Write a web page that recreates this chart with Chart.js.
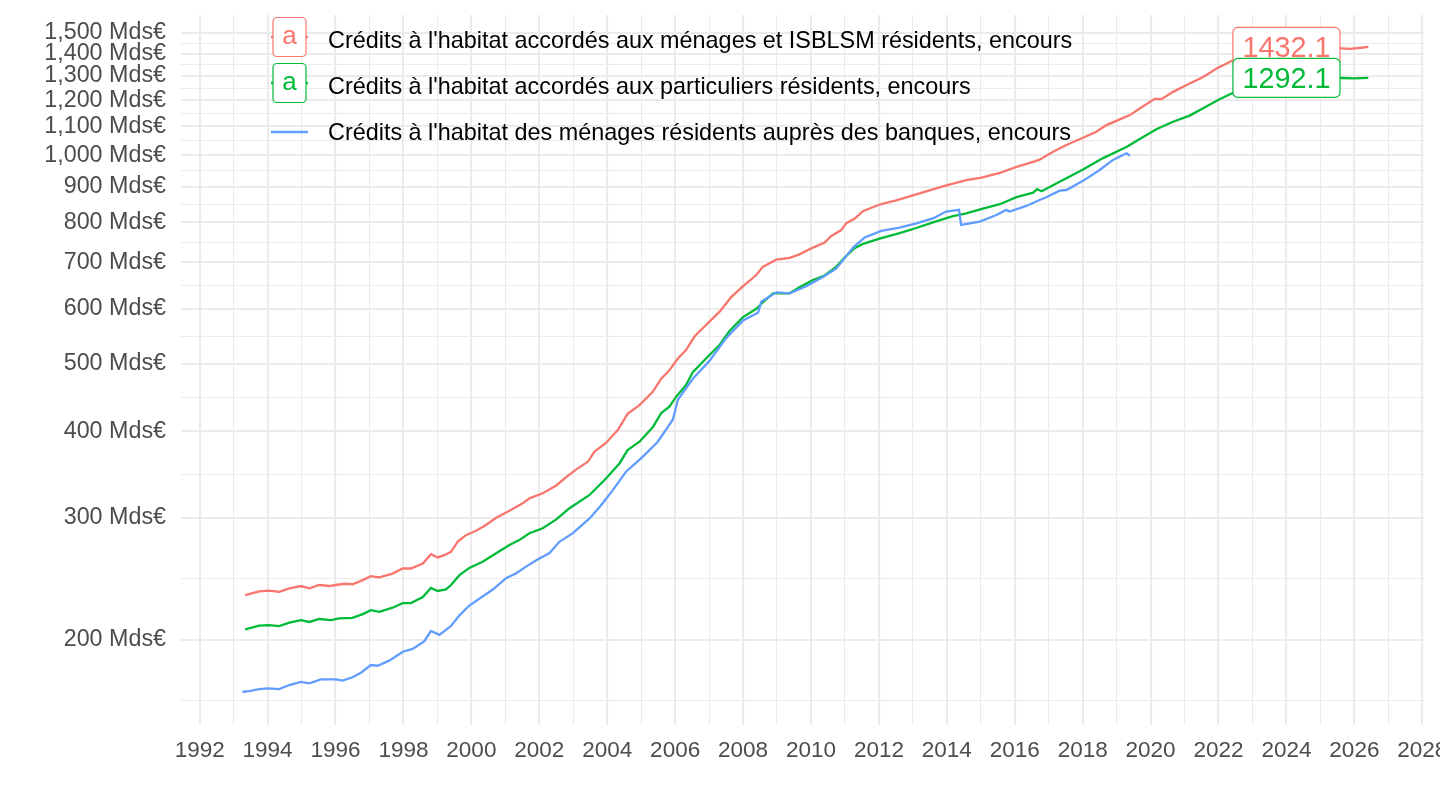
<!DOCTYPE html>
<html lang="fr">
<head>
<meta charset="utf-8">
<title>Crédits à l'habitat, encours</title>
<script src="https://cdn.jsdelivr.net/npm/chart.js@4.4.1/dist/chart.umd.min.js"></script>
<style>
  html, body { margin: 0; padding: 0; background: #fff; }
  #wrap { width: 1440px; height: 810px; }
</style>
</head>
<body>
<div id="wrap"><canvas id="chart" width="1440" height="810"></canvas></div>
<script>
// Series names (legend)
const seriesNames = [
    "Crédits à l'habitat accordés aux ménages et ISBLSM résidents, encours",
    "Crédits à l'habitat accordés aux particuliers résidents, encours",
    "Crédits à l'habitat des ménages résidents auprès des banques, encours"
];
const seriesColors = ['#F8766D', '#00BA38', '#619CFF'];

// Ménages et ISBLSM (Mds€)
const isblsmYears = [1993.34, 1993.75, 1994.05, 1994.34, 1994.64, 1994.98, 1995.23, 1995.52, 1995.82, 1996.01,
    1996.26, 1996.5, 1996.8, 1997.04, 1997.29, 1997.68, 1997.98, 1998.22, 1998.57, 1998.81,
    1999.01, 1999.2, 1999.4, 1999.6, 1999.84, 2000.14, 2000.43, 2000.73, 2001.12, 2001.51,
    2001.71, 2002.1, 2002.5, 2002.79, 2003.08, 2003.43, 2003.62, 2003.97, 2004.31, 2004.6,
    2004.95, 2005.34, 2005.59, 2005.83, 2006.08, 2006.32, 2006.57, 2006.91, 2007.31, 2007.65,
    2008.0, 2008.39, 2008.58, 2008.98, 2009.37, 2009.66, 2010.06, 2010.4, 2010.6, 2010.89,
    2011.04, 2011.28, 2011.53, 2011.78, 2012.07, 2012.51, 2013.0, 2013.49, 2013.99, 2014.57,
    2015.02, 2015.56, 2016.05, 2016.54, 2016.73, 2017.13, 2017.52, 2018.01, 2018.4, 2018.7,
    2019.09, 2019.39, 2019.68, 2020.12, 2020.32, 2020.66, 2021.15, 2021.55, 2021.94, 2022.43,
    2023.0, 2023.5, 2024.0, 2024.5, 2025.0, 2025.62, 2025.87, 2026.2, 2026.41];
const isblsmValues = [232, 235, 235.5, 234.6, 237.4, 239.2, 237.4, 240, 239.2, 240,
    241, 240.6, 243.9, 247.1, 246.1, 249.3, 253.5, 253.5, 257.8, 265.9,
    263, 265, 268, 277.2, 283.2, 287.3, 292.9, 300, 307, 314.7,
    320, 325.4, 334, 343.3, 352, 361.3, 373.5, 384.9, 401.3, 423.6,
    436, 455.7, 476, 489.4, 509, 523.4, 547.5, 569, 594.6, 624,
    647.2, 671.6, 690, 707, 711, 719.2, 735.6, 748, 764.7, 779.6,
    797.7, 809.4, 830, 839.7, 850, 860.4, 874.9, 889.6, 904.6, 919.9,
    928, 942.3, 961.4, 977.5, 985, 1011, 1034, 1059, 1080.6, 1104.6,
    1125.8, 1142, 1167.5, 1205, 1204, 1233.5, 1268, 1296, 1333, 1370,
    1400, 1418, 1426, 1428, 1427, 1425, 1423, 1428, 1432.1];

// Particuliers (Mds€)
const particuliersYears = [1993.34, 1993.75, 1994.05, 1994.34, 1994.64, 1994.98, 1995.23, 1995.52, 1995.87, 1996.1,
    1996.5, 1996.8, 1997.04, 1997.29, 1997.68, 1997.98, 1998.22, 1998.57, 1998.81, 1999.01,
    1999.25, 1999.4, 1999.65, 1999.94, 2000.33, 2000.73, 2001.12, 2001.41, 2001.71, 2002.1,
    2002.5, 2002.89, 2003.48, 2003.97, 2004.36, 2004.6, 2004.95, 2005.34, 2005.59, 2005.83,
    2006.03, 2006.32, 2006.52, 2006.91, 2007.31, 2007.6, 2008.0, 2008.39, 2008.58, 2008.88,
    2009.37, 2009.66, 2010.06, 2010.4, 2010.74, 2011.04, 2011.28, 2011.53, 2012.02, 2012.61,
    2013.1, 2013.59, 2014.18, 2014.57, 2015.06, 2015.56, 2016.05, 2016.54, 2016.66, 2016.79,
    2017.32, 2017.52, 2018.01, 2018.6, 2019.29, 2019.68, 2020.03, 2020.17, 2020.66, 2021.15,
    2021.64, 2022.03, 2022.43, 2023.0, 2023.5, 2024.0, 2024.5, 2025.0, 2025.62, 2026.0, 2026.41];
const particuliersValues = [207.2, 209.7, 210.1, 209.4, 211.8, 213.6, 212.3, 214.4, 213.6, 214.8,
    215.2, 217.9, 220.8, 219.6, 222.6, 226, 226, 230.6, 237.7, 235.3,
    236.6, 240, 248, 254, 259.2, 266.6, 274, 278.6, 285, 289.8,
    298.4, 309.7, 323.6, 342, 359.3, 375.5, 386.2, 405, 424.6, 433.7,
    448.4, 466.2, 486.6, 509, 532.6, 557.8, 584, 600.3, 613, 632,
    632, 644.6, 660.6, 670.6, 690, 715.6, 734, 744.7, 758, 772,
    785, 800, 816.7, 824, 837, 849.5, 869.5, 882.6, 893, 887,
    915, 926, 953, 990, 1027, 1054.6, 1080, 1089.5, 1117, 1140,
    1175, 1203.6, 1230, 1260, 1278, 1287, 1290, 1291, 1291.5, 1290, 1292.1];

// Ménages auprès des banques (Mds€)
const banquesYears = [1993.26, 1993.46, 1993.75, 1994.0, 1994.34, 1994.64, 1994.98, 1995.23, 1995.57, 1996.01,
    1996.21, 1996.5, 1996.75, 1997.04, 1997.24, 1997.58, 1997.98, 1998.27, 1998.61, 1998.81,
    1999.06, 1999.4, 1999.65, 1999.94, 2000.33, 2000.63, 2001.02, 2001.32, 2001.61, 2001.9,
    2002.3, 2002.59, 2002.98, 2003.48, 2003.8, 2004.16, 2004.56, 2005.05, 2005.49, 2005.93,
    2006.08, 2006.52, 2007.01, 2007.5, 2008.0, 2008.44, 2008.54, 2008.98, 2009.37, 2009.86,
    2010.35, 2010.74, 2010.94, 2011.24, 2011.58, 2012.07, 2012.61, 2013.1, 2013.59, 2013.98,
    2014.36, 2014.42, 2014.97, 2015.46, 2015.75, 2015.85, 2016.34, 2016.73, 2016.93, 2017.32,
    2017.52, 2018.01, 2018.5, 2018.89, 2019.29, 2019.39];
const banquesValues = [168.4, 168.8, 169.9, 170.3, 169.9, 172.2, 174, 173.2, 175.5, 175.5,
    174.7, 176.7, 179.4, 184, 183.6, 186.7, 192.3, 194.1, 199, 206,
    203.4, 209.5, 217, 224.2, 231, 236.4, 245.5, 249.6, 255.1, 260.3,
    266.8, 277, 284.9, 299.4, 312, 328.6, 349.9, 367.6, 386.2, 415.4,
    443.9, 476, 505, 544.6, 577.5, 592.6, 615, 634, 632, 647,
    667, 686, 705, 735.6, 760.7, 777.6, 786.2, 796.9, 810.4, 829,
    834, 793, 801.7, 819.6, 833.7, 829, 844.7, 861.5, 869.2, 888.5,
    890.5, 918, 951.8, 984, 1006, 998];

// Axis ticks
const xTickYears = [1992, 1993, 1994, 1995, 1996, 1997, 1998, 1999, 2000, 2001, 2002, 2003,
    2004, 2005, 2006, 2007, 2008, 2009, 2010, 2011, 2012, 2013, 2014, 2015,
    2016, 2017, 2018, 2019, 2020, 2021, 2022, 2023, 2024, 2025, 2026, 2027, 2028];
const yMajorTicks = [200, 300, 400, 500, 600, 700, 800, 900, 1000, 1100, 1200, 1300, 1400, 1500];
const labelYear = 2024;

// minor breaks: log-space midpoints, one extra step below the first break
const yExtended = [yMajorTicks[0] * yMajorTicks[0] / yMajorTicks[1]].concat(yMajorTicks);
const yMinorTicks = yExtended.slice(1).map((v, i) => Math.sqrt(v * yExtended[i]));

const FONT = '"Liberation Sans", Arial, Helvetica, sans-serif';
Chart.defaults.font.family = FONT;

function toPoints(xs, ys) {
    return xs.map((x, i) => ({ x: x, y: ys[i] }));
}

const overlayPlugin = {
    id: 'overlay',
    afterDatasetsDraw(chart) {
        const ctx = chart.ctx;
        const xs = chart.scales.x;
        const ys = chart.scales.y;

        // End labels (last values)
        const lastValues = [isblsmValues[isblsmValues.length - 1], particuliersValues[particuliersValues.length - 1]];
        ctx.save();
        ctx.font = '28.8px ' + FONT;
        lastValues.forEach((v, i) => {
            const text = v.toFixed(1);
            const cx = xs.getPixelForValue(labelYear);
            const cy = ys.getPixelForValue(v);
            const w = ctx.measureText(text).width + 19;
            const h = 39;
            ctx.beginPath();
            ctx.roundRect(cx - w / 2, cy - h / 2, w, h, 5);
            ctx.fillStyle = '#fff';
            ctx.fill();
            ctx.lineWidth = 1.2;
            ctx.strokeStyle = seriesColors[i];
            ctx.stroke();
            ctx.fillStyle = seriesColors[i];
            ctx.textAlign = 'center';
            ctx.textBaseline = 'alphabetic';
            ctx.fillText(text, cx, cy + 10.3);
        });

        // Legend
        const keyLeft = 271, keyRight = 308;
        const rows = [
            { base: 48, key: 37 },
            { base: 94, key: 83 },
            { base: 140, key: 132 }
        ];
        rows.forEach((r, i) => {
            ctx.strokeStyle = seriesColors[i];
            ctx.lineWidth = 2.5;
            ctx.beginPath();
            ctx.moveTo(keyLeft, r.key);
            ctx.lineTo(keyRight, r.key);
            ctx.stroke();
            if (i < 2) {
                ctx.beginPath();
                ctx.roundRect(273, r.key - 19.5, 33, 39, 4);
                ctx.fillStyle = '#fff';
                ctx.fill();
                ctx.lineWidth = 1.2;
                ctx.stroke();
                ctx.fillStyle = seriesColors[i];
                ctx.font = '26px ' + FONT;
                ctx.textAlign = 'center';
                ctx.textBaseline = 'alphabetic';
                ctx.fillText('a', 289.5, r.key + 7);
            }
            ctx.fillStyle = '#000';
            ctx.font = '23.4px ' + FONT;
            ctx.textAlign = 'left';
            ctx.textBaseline = 'alphabetic';
            ctx.fillText(seriesNames[i], 328, r.base);
        });
        ctx.restore();
    }
};

new Chart(document.getElementById('chart').getContext('2d'), {
    type: 'line',
    data: {
        datasets: [
            { label: seriesNames[0], data: toPoints(isblsmYears, isblsmValues), borderColor: seriesColors[0], order: 3 },
            { label: seriesNames[1], data: toPoints(particuliersYears, particuliersValues), borderColor: seriesColors[1], order: 2 },
            { label: seriesNames[2], data: toPoints(banquesYears, banquesValues), borderColor: seriesColors[2], order: 1 }
        ]
    },
    options: {
        responsive: false,
        animation: false,
        layout: { padding: { top: 15, right: 16, left: 0, bottom: 0 } },
        elements: {
            line: { borderWidth: 2.3, tension: 0, fill: false },
            point: { radius: 0, hoverRadius: 0 }
        },
        plugins: {
            legend: { display: false },
            tooltip: { enabled: false }
        },
        scales: {
            x: {
                type: 'linear',
                min: 1991.45,
                max: 2028.05,
                afterBuildTicks: scale => {
                    scale.ticks = xTickYears.map(v => ({ value: v }));
                },
                afterFit: scale => {
                    scale.height = 85;
                    scale.paddingLeft = 0;
                    scale.paddingRight = 0;
                },
                ticks: {
                    autoSkip: false,
                    maxRotation: 0,
                    padding: 12,
                    color: '#4D4D4D',
                    font: { size: 22.5 },
                    callback: v => (v % 2 === 0 ? String(v) : '')
                },
                grid: {
                    color: '#EBEBEB',
                    drawTicks: false,
                    lineWidth: c => (c.tick && c.tick.value % 2 === 0 ? 2.1 : 1.1)
                },
                border: { display: false }
            },
            y: {
                type: 'logarithmic',
                min: 150.8,
                max: 1592,
                afterBuildTicks: scale => {
                    const t = yMajorTicks.map(v => ({ value: v }))
                        .concat(yMinorTicks.map(v => ({ value: v, minorLine: true })));
                    t.sort((a, b) => a.value - b.value);
                    scale.ticks = t;
                },
                afterFit: scale => {
                    scale.width = 181;
                    scale.paddingTop = 0;
                    scale.paddingBottom = 0;
                },
                ticks: {
                    autoSkip: false,
                    padding: 15,
                    color: '#4D4D4D',
                    font: { size: 23.3 },
                    callback: function (v, i, ticks) {
                        if (ticks[i] && ticks[i].minorLine) return '';
                        return v.toLocaleString('en-US') + ' Mds€';
                    }
                },
                grid: {
                    color: '#EBEBEB',
                    drawTicks: false,
                    lineWidth: c => (c.tick && c.tick.minorLine ? 1.1 : 2.1)
                },
                border: { display: false }
            }
        }
    },
    plugins: [overlayPlugin]
});
</script>
</body>
</html>
